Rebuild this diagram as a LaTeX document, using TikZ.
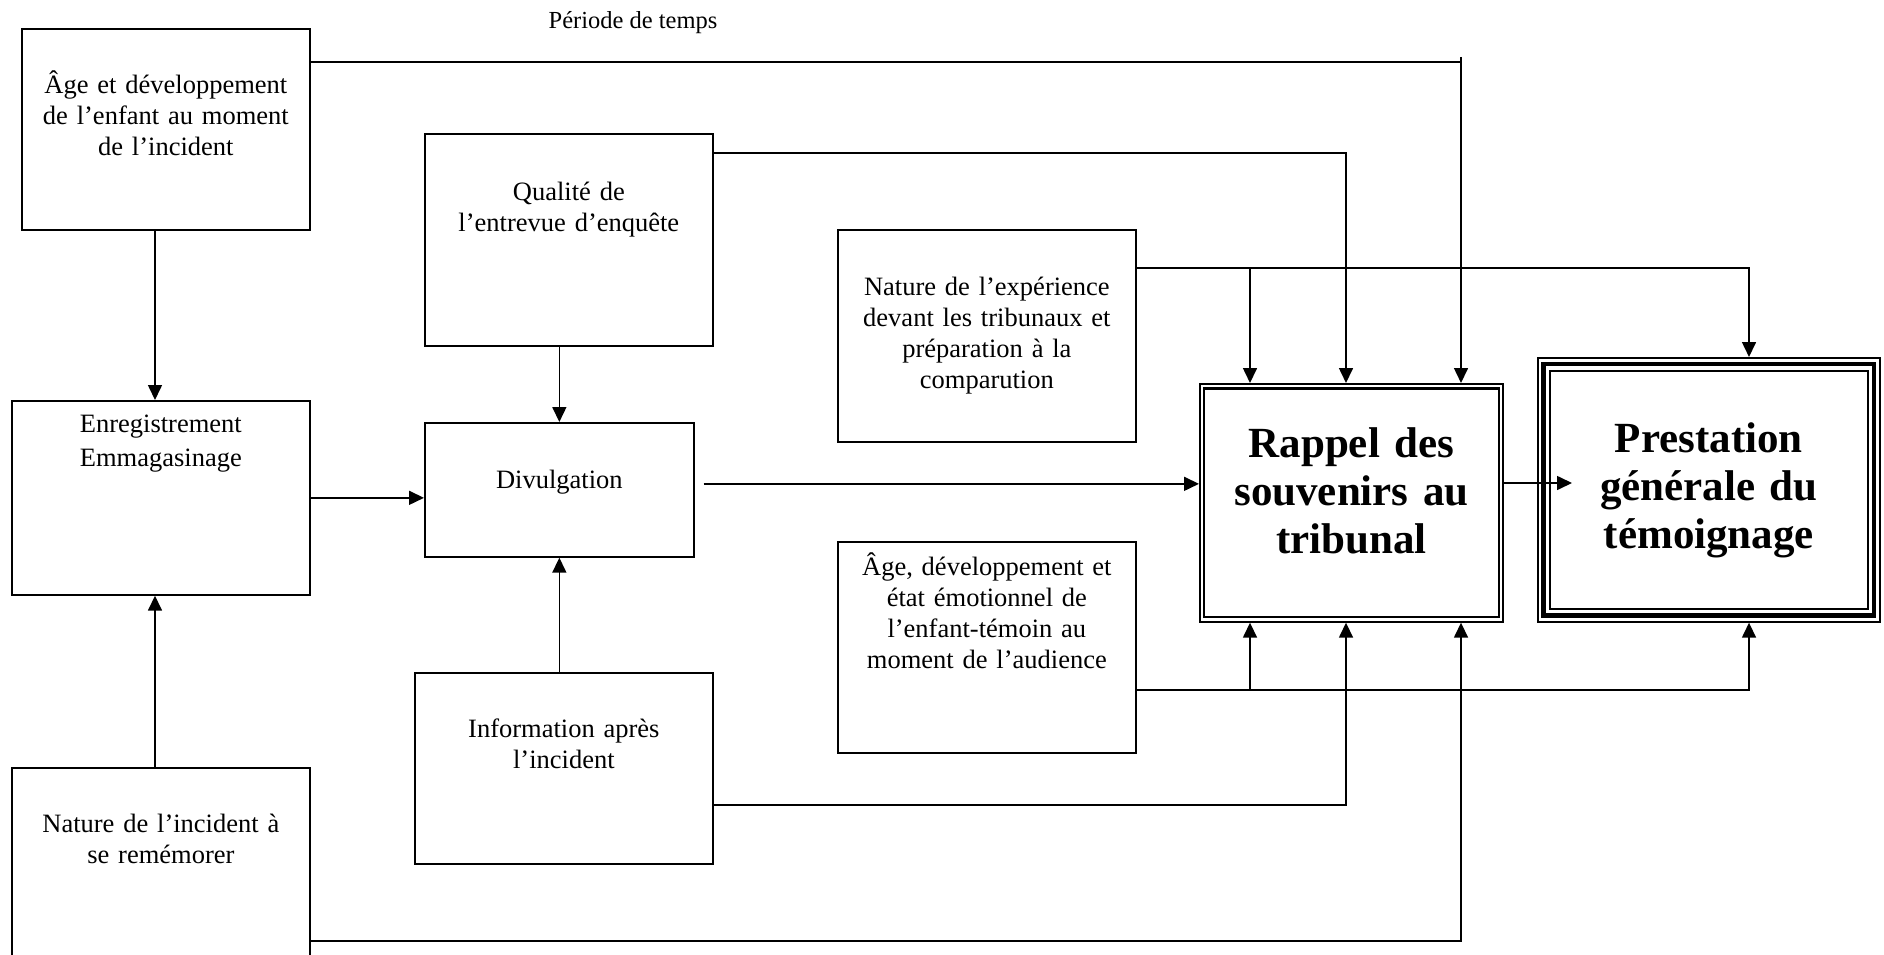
\documentclass[tikz,border=0pt]{standalone}
\usepackage{fontspec}
\setmainfont{Liberation Serif}
\usetikzlibrary{arrows.meta}
\usetikzlibrary{positioning}

\newcommand{\cadrefont}{\fontsize{26.5pt}{31pt}\selectfont}
\newcommand{\grosfont}{\bfseries\fontsize{43pt}{48pt}\selectfont}
\newcommand{\tempsfont}{\fontsize{24.5pt}{29pt}\selectfont}

\begin{document}
\begin{tikzpicture}[x=1pt,y=-1pt,
    cadre/.style={draw, line width=1.7pt, inner sep=0pt, inner xsep=4pt, align=center, font=\cadrefont, anchor=north west},
    conn/.style={line width=1.6pt},
    flow/.style={conn, -{Triangle[length=15pt,width=14pt]}}]
    \useasboundingbox (0,0) rectangle (1884,955);
    \clip (0,0) rectangle (1884,955);

    % boites de gauche
    \node[cadre, text width=280pt, text height=65pt, text depth=136pt] (age) at (21,28)
        {Âge et développement\\de l’enfant au moment\\de l’incident};
    \node[cadre, text width=290pt, text height=32pt, text depth=162pt] (enreg) at (11,400)
        {Enregistrement\\[3pt]Emmagasinage};
    \node[cadre, text width=290pt, text height=65pt, text depth=148pt] (incident) at (11,767)
        {Nature de l’incident à\\se remémorer};

    % colonne du milieu
    \node[cadre, text width=280pt, text height=67pt, text depth=145pt] (qualite) at (424,133)
        {Qualité de\\l’entrevue d’enquête};
    \node[cadre, text width=261pt, text height=66pt, text depth=68pt] (divulgation) at (424,422)
        {Divulgation};
    \node[cadre, text width=290pt, text height=65pt, text depth=126pt] (information) at (414,672)
        {Information après\\l’incident};
    \node[cadre, text width=290pt, text height=66pt, text depth=146pt] (experience) at (837,229)
        {Nature de l’expérience\\devant les tribunaux et\\préparation à la\\comparution};
    \node[cadre, text width=290pt, text height=34pt, text depth=177pt] (agetemoin) at (837,541)
        {Âge, développement et\\état émotionnel de\\l’enfant-témoin au\\moment de l’audience};

    % boites finales
    \node[cadre, font=\grosfont, text width=295pt, text height=74pt, text depth=164pt] (rappel) at (1199,383)
        {Rappel des\\souvenirs au\\tribunal};
    \draw[line width=2.4pt] ([xshift=5pt,yshift=-5.5pt]rappel.north west) rectangle ([xshift=-5pt,yshift=5.5pt]rappel.south east);
    \node[cadre, font=\grosfont, text width=334pt, text height=95pt, text depth=169pt] (prestation) at (1537,357)
        {Prestation\\générale du\\témoignage};
    \draw[line width=4.5pt] ([xshift=6.5pt,yshift=-7pt]prestation.north west) rectangle ([xshift=-6.5pt,yshift=7pt]prestation.south east);
    \draw[line width=2pt] ([xshift=13pt,yshift=-13.5pt]prestation.north west) rectangle ([xshift=-13pt,yshift=14pt]prestation.south east);

    \node[font=\tempsfont, anchor=base] (periode) at (633,29) {Période de temps};

    % couloirs verticaux
    \coordinate (laneL) at (155,0);
    \coordinate (lane1) at (1250,0);
    \coordinate (lane2) at (1346,0);
    \coordinate (stub) at (1461,57);
    \coordinate (lane4) at (1749,0);

    % niveaux des lignes
    \coordinate (aline) at ([yshift=-34pt]age.north east);
    \coordinate (bline) at ([yshift=-20pt]qualite.north east);
    \coordinate (cline) at ([yshift=-39pt]experience.north east);
    \coordinate (gline) at ([yshift=-149pt]agetemoin.north east);
    \coordinate (fline) at ([yshift=-133pt]information.north east);
    \coordinate (hline) at ([yshift=-174pt]incident.north east);
    \coordinate (dline) at ([xshift=9pt,yshift=6pt]divulgation.east);
    \coordinate (pin) at (1572,483);

    % fleches a gauche
    \draw[flow] (laneL |- age.south) -- (laneL |- enreg.north);
    \draw[flow] (laneL |- incident.north) -- (laneL |- enreg.south);
    \draw[flow] (enreg.east) -- (enreg.east -| divulgation.west);
    \draw[flow] (divulgation.north |- qualite.south) -- (divulgation.north);
    \draw[flow] (divulgation.south |- information.north) -- (divulgation.south);

    % vers le rappel
    \draw[flow] (dline) -- (dline -| rappel.west);
    \draw[conn] (aline) -- (aline -| stub);
    \draw[flow] (stub) -- (stub |- rappel.north);
    \draw[flow] (bline) -| (lane2 |- rappel.north);
    \draw[flow] (cline) -| (lane4 |- prestation.north);
    \draw[flow] (cline -| lane1) -- (lane1 |- rappel.north);
    \draw[flow] (gline) -| (lane4 |- prestation.south);
    \draw[flow] (gline -| lane1) -- (lane1 |- rappel.south);
    \draw[flow] (fline) -| (lane2 |- rappel.south);
    \draw[flow] (hline) -| (stub |- rappel.south);

    % vers la prestation
    \draw[flow] (rappel.east |- pin) -- (pin);
\end{tikzpicture}
\end{document}
